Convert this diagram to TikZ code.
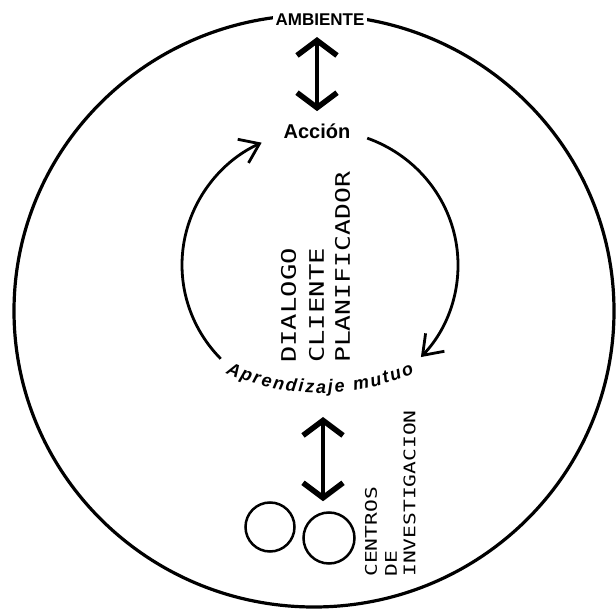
\documentclass[tikz,border=0pt]{standalone}
\usepackage{fontspec}
\usepackage{graphicx}
\setmainfont{Liberation Sans}
\newfontfamily\lettering{DejaVu Sans Mono}
\usetikzlibrary{arrows.meta,decorations.text}

\begin{document}
\begin{tikzpicture}[x=1pt,y=1pt,
  >={Straight Barb[length=15pt,width=40pt,line width=5.5pt]},
  twoway/.style={line width=3.5pt,<->},
  cycarrow/.style={line width=2.8pt,-{Straight Barb[length=18pt,width=26pt,line width=2.8pt]}},
  vtext/.style={rotate=90,anchor=west,inner sep=0pt,font=\lettering\fontsize{20}{20}\selectfont},
  stext/.style={rotate=90,anchor=west,inner sep=0pt,font=\lettering\fontsize{16}{16}\selectfont},
  centro/.style={circle,draw,line width=2.5pt,inner sep=0pt}]
\useasboundingbox (0,0) rectangle (616,608);
% outer ring
\draw[line width=3.2pt] (314,297) ellipse [x radius=300,y radius=296];
\node[fill=white,inner sep=3pt,font=\bfseries\fontsize{17}{17}\selectfont] (ambiente) at (320,588) {AMBIENTE};
\node[anchor=base,inner sep=0pt,font=\bfseries\fontsize{20}{20}\selectfont] (accion) at (317,469) {Acción};
\draw[twoway,shorten <=8pt,shorten >=13pt] (accion.north |- ambiente.south) -- (accion.north);
% cycle
\coordinate (ciclo) at (320,343);
\draw[cycarrow] (ciclo) ++(70:138 and 135) arc[start angle=70,end angle=-43,x radius=138,y radius=135];
\draw[cycarrow] (ciclo) ++(224:138 and 135) arc[start angle=224,end angle=115,x radius=138,y radius=135];
\path[decorate,decoration={text along path,text align=fit to path,
  text={|\bfseries\itshape\fontsize{18}{18}\selectfont|Aprendizaje mutuo}}]
  (320,447) ++(246:232) arc[start angle=246,end angle=294,radius=232];
\node[vtext] (dialogo) at (288.5,245) {\scalebox{1.36}[1]{DIALOGO}};
\node[vtext] (cliente) at (316.5,245) {\scalebox{1.36}[1]{CLIENTE}};
\node[vtext] (planif) at (342.5,245) {\scalebox{1.32}[1]{PLANIFICADOR}};
% research centres
\node[centro,minimum size=49pt] (centro1) at (270,81) {};
\node[centro,minimum size=51pt] (centro2) at (329,70) {};
\coordinate (mutuo) at (323,191);
\draw[twoway,shorten >=10pt] (mutuo) -- (mutuo |- centro2.north);
\node[stext] (centros) at (371,31) {\scalebox{1.33}[1]{CENTROS}};
\node[stext] (de) at (391,31) {\scalebox{1.33}[1]{DE}};
\node[stext] (investig) at (409.5,31) {\scalebox{1.33}[1]{INVESTIGACION}};
\end{tikzpicture}
\end{document}
